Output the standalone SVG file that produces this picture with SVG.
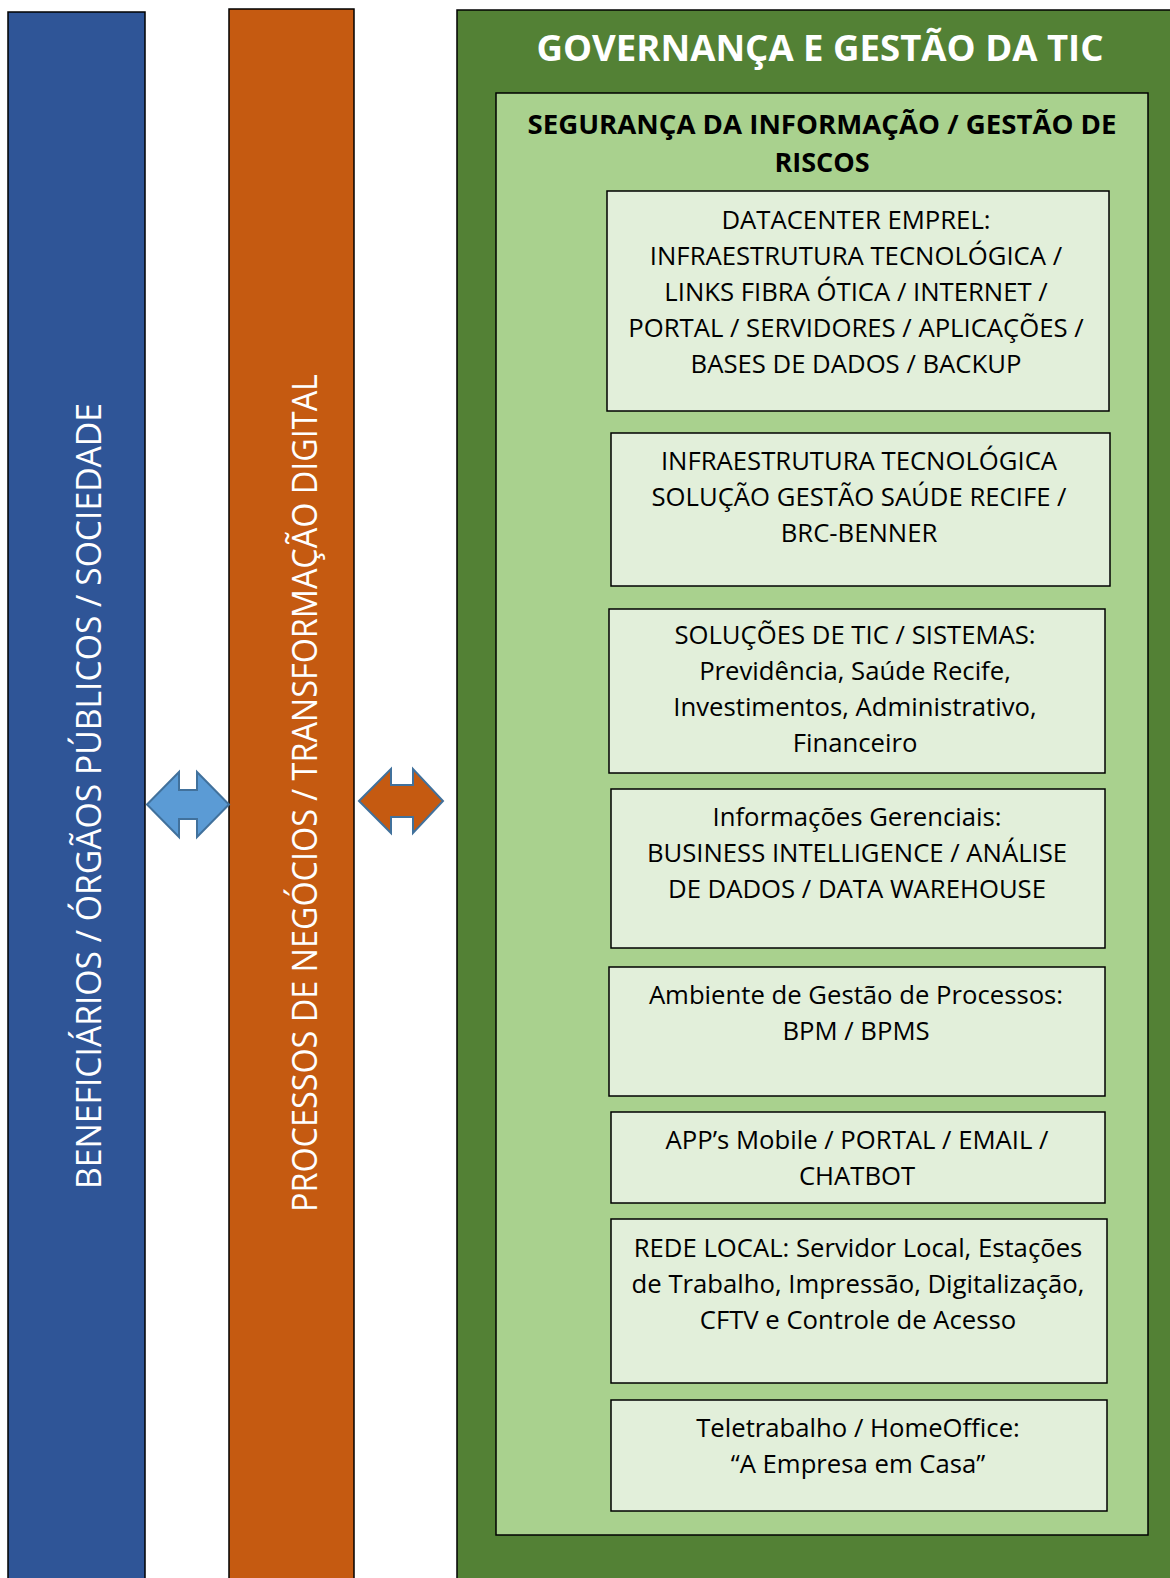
<svg xmlns="http://www.w3.org/2000/svg" width="1170" height="1578" viewBox="0 0 1170 1578">
  <style>
    .bar { stroke: #000; stroke-width: 1.5; }
    .vlabel { font-family: "Open Sans", "Liberation Sans", sans-serif; font-size: 35px; fill: #fff; text-anchor: middle; }
    .title { font-family: "Open Sans", "Liberation Sans", sans-serif; font-weight: bold; font-size: 36px; fill: #fff; text-anchor: middle; }
    .subtitle { font-family: "Open Sans", "Liberation Sans", sans-serif; font-weight: bold; font-size: 27px; fill: #000; text-anchor: middle; }
    .box { fill: #E2EFDA; stroke: #000; stroke-width: 1.5; }
    .txt { font-family: "Open Sans", "Liberation Sans", sans-serif; font-size: 25.7px; fill: #000; text-anchor: middle; }
    .arrow { stroke: #41719C; stroke-width: 2; stroke-linejoin: miter; }
  </style>

  <rect width="1170" height="1578" fill="#fff"/>

  <!-- left column: beneficiaries -->
  <g id="beneficiarios">
    <rect class="bar" x="8" y="12" width="137" height="1580" fill="#2F5597"/>
    <text class="vlabel" transform="translate(101,796) rotate(-90)" textLength="786" lengthAdjust="spacingAndGlyphs">BENEFICIÁRIOS / ÓRGÃOS PÚBLICOS / SOCIEDADE</text>
  </g>

  <!-- middle column: business processes -->
  <g id="processos">
    <rect class="bar" x="229" y="9" width="125" height="1580" fill="#C55A11"/>
    <text class="vlabel" transform="translate(317,793) rotate(-90)" textLength="838" lengthAdjust="spacingAndGlyphs">PROCESSOS DE NEGÓCIOS / TRANSFORMAÇÃO DIGITAL</text>
  </g>

  <!-- right column: governance -->
  <g id="governanca">
    <rect class="bar" x="457" y="10" width="730" height="1580" fill="#538135"/>
    <text class="title" x="820" y="61" textLength="567" lengthAdjust="spacingAndGlyphs">GOVERNANÇA E GESTÃO DA TIC</text>
  </g>

  <g id="seguranca">
    <rect class="bar" x="496" y="93" width="652" height="1442" fill="#A9D18E"/>
    <text class="subtitle" x="822" y="134" textLength="589" lengthAdjust="spacingAndGlyphs">SEGURANÇA DA INFORMAÇÃO / GESTÃO DE</text>
    <text class="subtitle" x="822" y="172">RISCOS</text>
  </g>

  <g id="datacenter">
    <rect class="box" x="607" y="191" width="502" height="220"/>
    <text class="txt" x="856" y="229">DATACENTER EMPREL:</text>
    <text class="txt" x="856" y="265">INFRAESTRUTURA TECNOLÓGICA /</text>
    <text class="txt" x="856" y="301">LINKS FIBRA ÓTICA / INTERNET /</text>
    <text class="txt" x="856" y="337">PORTAL / SERVIDORES / APLICAÇÕES /</text>
    <text class="txt" x="856" y="373">BASES DE DADOS / BACKUP</text>
  </g>

  <g id="infra-saude">
    <rect class="box" x="611" y="433" width="499" height="153"/>
    <text class="txt" x="859" y="470">INFRAESTRUTURA TECNOLÓGICA</text>
    <text class="txt" x="859" y="506">SOLUÇÃO GESTÃO SAÚDE RECIFE /</text>
    <text class="txt" x="859" y="542">BRC-BENNER</text>
  </g>

  <g id="solucoes">
    <rect class="box" x="609" y="609" width="496" height="164"/>
    <text class="txt" x="855" y="644">SOLUÇÕES DE TIC / SISTEMAS:</text>
    <text class="txt" x="855" y="680">Previdência, Saúde Recife,</text>
    <text class="txt" x="855" y="716">Investimentos, Administrativo,</text>
    <text class="txt" x="855" y="752">Financeiro</text>
  </g>

  <g id="informacoes">
    <rect class="box" x="611" y="789" width="494" height="159"/>
    <text class="txt" x="857" y="826">Informações Gerenciais:</text>
    <text class="txt" x="857" y="862">BUSINESS INTELLIGENCE / ANÁLISE</text>
    <text class="txt" x="857" y="898">DE DADOS / DATA WAREHOUSE</text>
  </g>

  <g id="processos-bpm">
    <rect class="box" x="609" y="967" width="496" height="129"/>
    <text class="txt" x="856" y="1004">Ambiente de Gestão de Processos:</text>
    <text class="txt" x="856" y="1040">BPM / BPMS</text>
  </g>

  <g id="apps">
    <rect class="box" x="611" y="1112" width="494" height="91"/>
    <text class="txt" x="857" y="1149">APP’s Mobile / PORTAL / EMAIL /</text>
    <text class="txt" x="857" y="1185">CHATBOT</text>
  </g>

  <g id="rede-local">
    <rect class="box" x="611" y="1219" width="496" height="164"/>
    <text class="txt" x="858" y="1257">REDE LOCAL: Servidor Local, Estações</text>
    <text class="txt" x="858" y="1293">de Trabalho, Impressão, Digitalização,</text>
    <text class="txt" x="858" y="1329">CFTV e Controle de Acesso</text>
  </g>

  <g id="teletrabalho">
    <rect class="box" x="611" y="1400" width="496" height="111"/>
    <text class="txt" x="858" y="1437">Teletrabalho / HomeOffice:</text>
    <text class="txt" x="858" y="1473">“A Empresa em Casa”</text>
  </g>

  <!-- two-way arrows between the columns -->
  <g id="connectors">
    <path class="arrow" fill="#5B9BD5" d="M147,804.5 L179,772 L179,790 L197,790 L197,772 L229,804.5 L197,837 L197,819 L179,819 L179,837 Z"/>
    <path class="arrow" fill="#C55A11" d="M359,801 L391,769 L391,785 L413,785 L413,769 L443,801 L413,833 L413,817 L391,817 L391,833 Z"/>
  </g>
</svg>
